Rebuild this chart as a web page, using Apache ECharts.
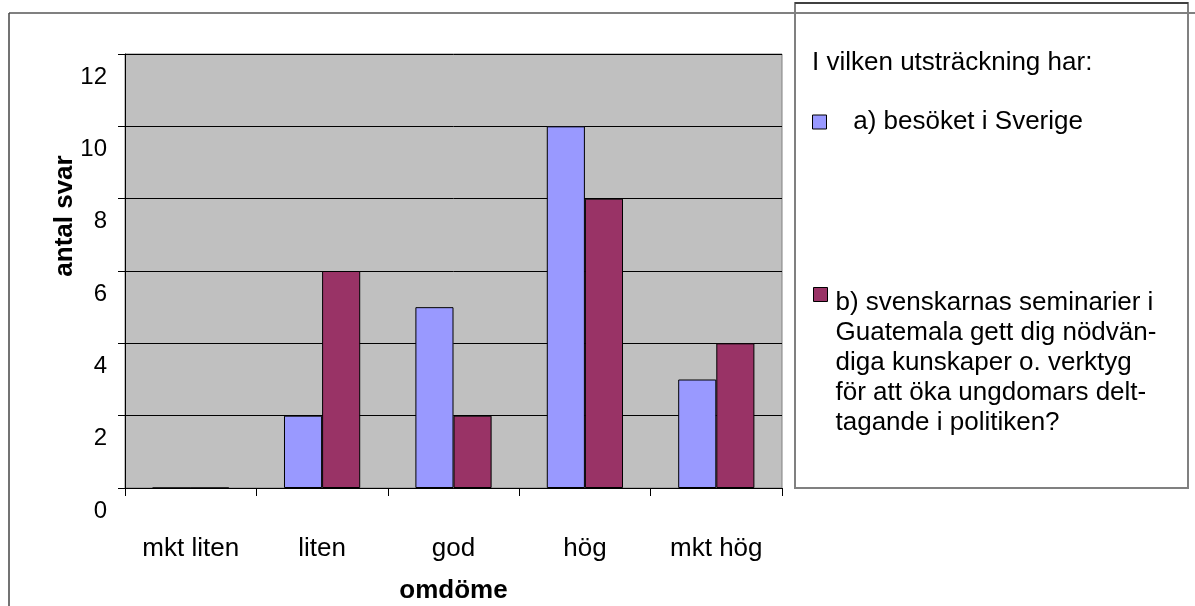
<!DOCTYPE html>
<html>
<head>
<meta charset="utf-8">
<script src="https://cdn.jsdelivr.net/npm/echarts@6/dist/echarts.min.js"></script>
<style>
html,body{margin:0;padding:0;background:#fff;}
#chart{width:1195px;height:606px;}
</style>
</head>
<body>
<div id="chart"></div>
<script>
var categories = ['mkt liten', 'liten', 'god', 'hög', 'mkt hög'];
var seriesA = [0, 2, 5, 10, 3];
var seriesB = [0, 6, 2, 8, 4];
var nameA = 'a) besöket i Sverige';
var nameB = 'b) svenskarnas seminarier i';
var nameBLines = ['b) svenskarnas seminarier i', 'Guatemala gett dig nödvän-', 'diga kunskaper o. verktyg', 'för att öka ungdomars delt-', 'tagande i politiken?'];
var legendTitle = 'I vilken utsträckning har:';
var xAxisName = 'omdöme';
var yAxisName = 'antal svar';

var FONT = '"Liberation Sans", Arial, sans-serif';
var chart = echarts.init(document.getElementById('chart'), null, {renderer: 'canvas'});

var option = {
  animation: false,
  backgroundColor: '#fff',
  textStyle: {fontFamily: FONT, color: '#000'},
  grid: {
    left: 125, right: 413, top: 54, bottom: 118,
    outerBoundsMode: 'none', containLabel: false,
    show: true, backgroundColor: '#C0C0C0', borderColor: '#808080', borderWidth: 1
  },
  graphic: [
    {type: 'rect', z: 0, shape: {x: 795, y: 3, width: 393, height: 485},
     style: {fill: '#fff', stroke: '#808080', lineWidth: 2}},
    {type: 'line', z: 1, shape: {x1: 795, y1: 3, x2: 1188, y2: 3}, style: {stroke: '#000', lineWidth: 1}},
    {type: 'line', z: 1, shape: {x1: 9, y1: 13, x2: 1195, y2: 13}, style: {stroke: '#808080', lineWidth: 2}},
    {type: 'line', z: 1, shape: {x1: 9, y1: 13, x2: 9, y2: 606}, style: {stroke: '#444', lineWidth: 1.5}},
    {type: 'text', z: 5, left: 812, top: 50,
     style: {text: legendTitle, font: '26px ' + FONT, fill: '#000'}}
  ],
  legend: [
    {
      data: [nameA], left: 812, top: 107, padding: 0,
      itemWidth: 14, itemHeight: 14, icon: 'rect',
      itemStyle: {borderColor: '#000', borderWidth: 1},
      formatter: function (n) { return '   ' + n; },
      textStyle: {fontSize: 26, fontFamily: FONT, color: '#000', lineHeight: 30}
    },
    {
      data: [nameB], left: 813, top: 287, padding: 0,
      itemWidth: 17, itemHeight: 150,
      icon: 'path://M0,0L14,0L14,14L0,14Z M0,150L0,150 M17,0L17,0',
      itemStyle: {borderColor: '#000', borderWidth: 1},
      formatter: function () { return nameBLines.join('\n'); },
      textStyle: {fontSize: 26, fontFamily: FONT, color: '#000', lineHeight: 30}
    }
  ],
  xAxis: {
    type: 'category',
    data: categories,
    name: xAxisName,
    nameLocation: 'middle',
    nameGap: 90,
    nameTextStyle: {fontSize: 26, fontWeight: 'bold', fontFamily: FONT, color: '#000'},
    axisLine: {show: true, lineStyle: {color: '#000', width: 1}},
    axisTick: {show: true, length: 8, inside: false, alignWithLabel: false, lineStyle: {color: '#000'}},
    axisLabel: {fontSize: 26, fontFamily: FONT, color: '#000', margin: 48},
    splitLine: {show: false}
  },
  yAxis: {
    type: 'value',
    min: 0, max: 12, interval: 2,
    name: yAxisName,
    nameLocation: 'middle',
    nameGap: 47,
    nameMoveOverlap: false,
    nameTextStyle: {fontSize: 26, fontWeight: 'bold', fontFamily: FONT, color: '#000', padding: [0, 0, 0, 110]},
    axisLine: {show: true, lineStyle: {color: '#000', width: 1}},
    axisTick: {show: true, length: 7, inside: false, lineStyle: {color: '#000'}},
    axisLabel: {fontSize: 24, fontFamily: FONT, color: '#000', margin: 18, verticalAlign: 'top', lineHeight: 46},
    splitLine: {show: true, lineStyle: {color: '#000', width: 1}}
  },
  series: [
    {
      name: nameA, type: 'bar', data: seriesA,
      barGap: '0%', barCategoryGap: '42%',
      itemStyle: {color: '#9999FF', borderColor: '#000', borderWidth: 1}
    },
    {
      name: nameB, type: 'bar', data: seriesB,
      barGap: '0%', barCategoryGap: '42%',
      itemStyle: {color: '#993366', borderColor: '#000', borderWidth: 1}
    }
  ]
};
chart.setOption(option);
</script>
</body>
</html>
